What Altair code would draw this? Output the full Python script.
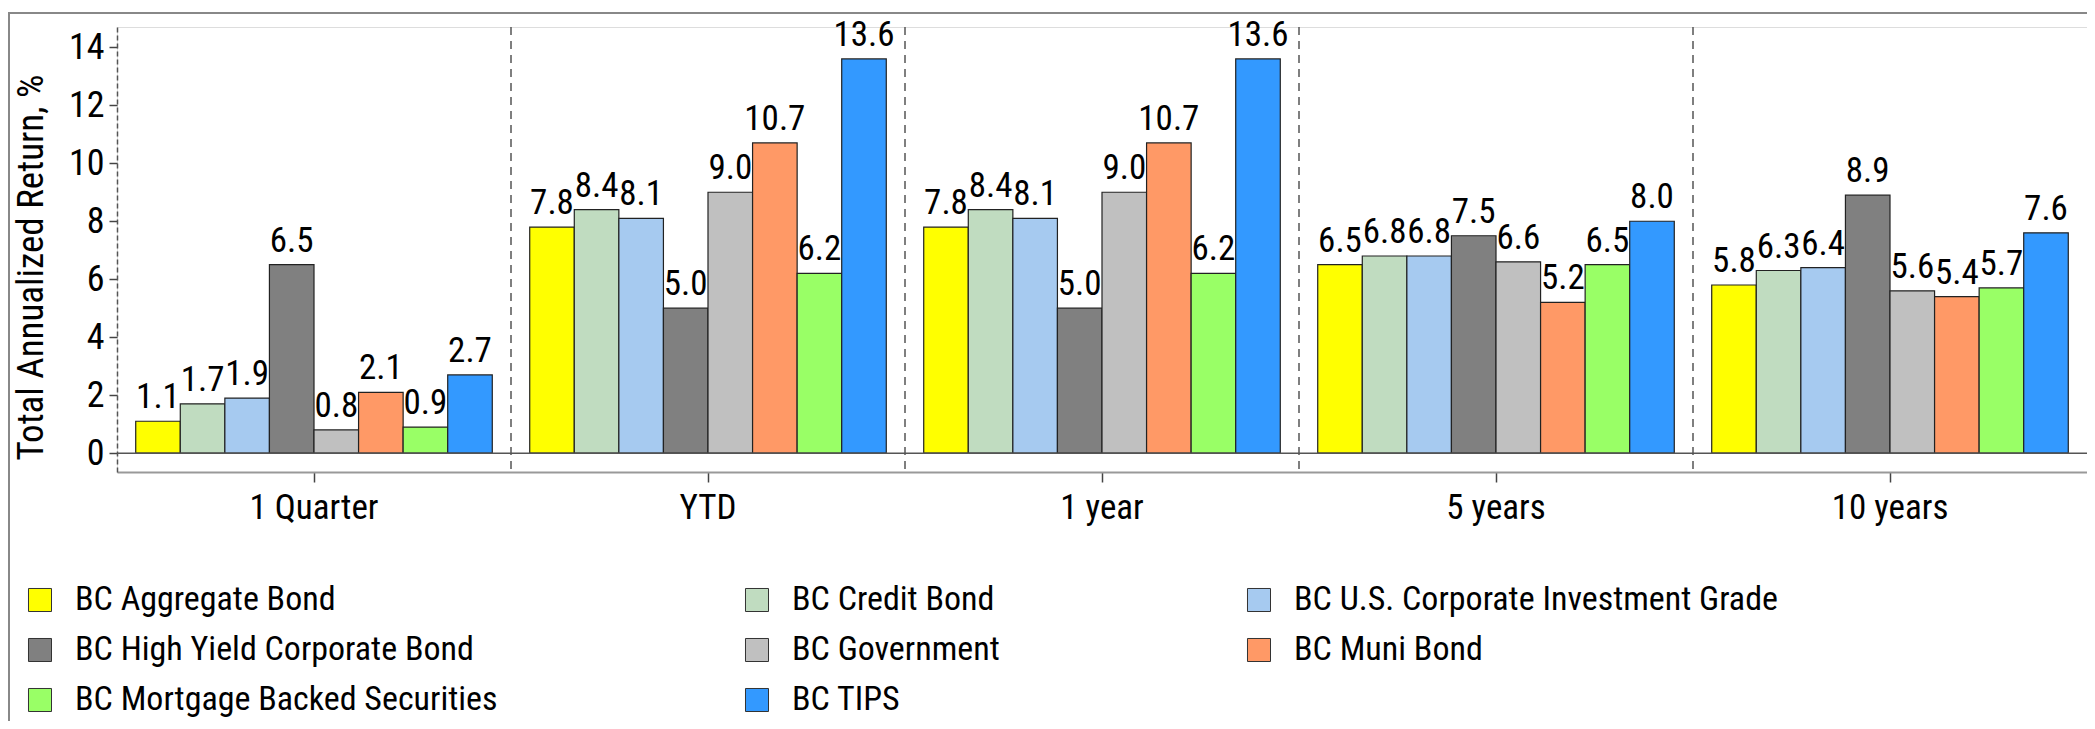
import altair as alt
import pandas as pd

periods = ["1 Quarter", "YTD", "1 year", "5 years", "10 years"]
series = [
    "BC Aggregate Bond",
    "BC Credit Bond",
    "BC U.S. Corporate Investment Grade",
    "BC High Yield Corporate Bond",
    "BC Government",
    "BC Muni Bond",
    "BC Mortgage Backed Securities",
    "BC TIPS",
]
colors = ["#FFFF00", "#C0DCC0", "#A6CAF0", "#808080", "#C0C0C0", "#FF9966", "#99FF66", "#3399FF"]

q1 = [1.1, 1.7, 1.9, 6.5, 0.8, 2.1, 0.9, 2.7]
ytd = [7.8, 8.4, 8.1, 5.0, 9.0, 10.7, 6.2, 13.6]
y1 = [7.8, 8.4, 8.1, 5.0, 9.0, 10.7, 6.2, 13.6]
y5 = [6.5, 6.8, 6.8, 7.5, 6.6, 5.2, 6.5, 8.0]
y10 = [5.8, 6.3, 6.4, 8.9, 5.6, 5.4, 5.7, 7.6]

y_ticks = [0, 2, 4, 6, 8, 10, 12, 14]

rows = []
for p, vals in zip(periods, [q1, ytd, y1, y5, y10]):
    for s, v in zip(series, vals):
        rows.append({"period": p, "series": s, "value": v})
df = pd.DataFrame(rows)
sep_df = pd.DataFrame({"period": periods[1:]})
one = pd.DataFrame({"a": [0]})

W, H = 1970, 445
FONT = "'Liberation Sans Narrow', 'Arial Narrow', 'Roboto Condensed', 'DejaVu Sans Condensed', 'Liberation Sans', sans-serif"

xscale = alt.Scale(domain=periods, paddingInner=0, paddingOuter=0)
xoff_scale = alt.Scale(domain=series, paddingInner=0, paddingOuter=0.42)
yscale = alt.Scale(domain=[-0.65, 14.7], nice=False, zero=False)

x_enc = alt.X(
    "period:N",
    scale=xscale,
    sort=periods,
    title=None,
    axis=alt.Axis(
        labelFont=FONT, labelFontSize=35, labelColor="#000", labelAngle=0,
        labelAlign="center", labelBaseline="top",
        labelPadding=8, tickSize=10, tickColor="#444", tickWidth=1.5,
        domainColor="#999", domainWidth=2, grid=False,
    ),
)
y_enc = alt.Y(
    "value:Q",
    scale=yscale,
    title="Total Annualized Return, %",
    axis=alt.Axis(
        values=y_ticks, format="d", grid=False,
        labelFont=FONT, labelFontSize=36, labelColor="#000", labelPadding=5,
        tickSize=8, tickColor="#444", tickWidth=1.5,
        domainColor="#555", domainWidth=1.5, domainDash=[5, 3],
        titleFont=FONT, titleFontSize=37, titleFontWeight="normal", titleColor="#000",
        titleAngle=270, titleBaseline="alphabetic", titleAlign="center",
        titleX=-75, titleY=240,
    ),
)

bars = alt.Chart(df).mark_bar(stroke="#222", strokeWidth=1.2).encode(
    x=x_enc,
    xOffset=alt.XOffset("series:N", scale=xoff_scale, sort=series),
    y=y_enc,
    color=alt.Color(
        "series:N",
        scale=alt.Scale(domain=series, range=colors),
        sort=series,
        legend=alt.Legend(
            title=None, orient="none", legendX=-94, legendY=556,
            direction="horizontal",
            columns=3, columnPadding=242, rowPadding=16, padding=0,
            symbolType="square", symbolSize=530, symbolStrokeColor="#333",
            symbolStrokeWidth=1, symbolOpacity=1,
            labelFont=FONT, labelFontSize=34, labelColor="#000", labelOffset=18,
            labelLimit=0,
        ),
    ),
)

labels = alt.Chart(df).mark_text(
    font=FONT, fontSize=35, color="#000", baseline="alphabetic", align="center", dy=-13
).encode(
    x=alt.X("period:N", scale=xscale, sort=periods),
    xOffset=alt.XOffset("series:N", scale=xoff_scale, sort=series),
    y=alt.Y("value:Q", scale=yscale),
    text=alt.Text("value:Q", format=".1f"),
)

zero = alt.Chart(one).mark_rule(color="#555", strokeWidth=1.5).encode(
    y=alt.datum(0, scale=yscale), x=alt.value(0), x2=alt.value(W)
)

seps = alt.Chart(sep_df).mark_rule(color="#555", strokeWidth=1.5, strokeDash=[8, 6]).encode(
    x=alt.X("period:N", scale=xscale, sort=periods, bandPosition=0),
    y=alt.value(0), y2=alt.value(H),
)

frame_top = alt.Chart(one).mark_rule(color="#888", strokeWidth=2).encode(
    x=alt.value(-109), x2=alt.value(W), y=alt.value(-14)
)
frame_left = alt.Chart(one).mark_rule(color="#888", strokeWidth=2).encode(
    x=alt.value(-108), y=alt.value(-14), y2=alt.value(H + 260)
)

chart = alt.layer(frame_top, frame_left, bars, seps, zero, labels).properties(
    width=W, height=H,
    autosize=alt.AutoSizeParams(type="none"),
    padding={"left": 109, "top": 19, "right": 0, "bottom": 249},
).configure_view(stroke=None).configure(background="white")

chart.save("out.html", embed_options={"renderer": "svg", "actions": False})
